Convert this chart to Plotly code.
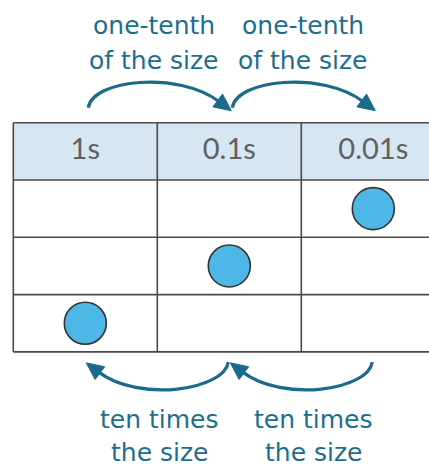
import plotly.graph_objects as go

# ---- data ----
columns = ["1s", "0.1s", "0.01s"]
n_rows = 3
dot_cols = [2, 1, 0]          # column index of each dot
dot_rows = [1, 2, 3]          # row index (0 = header)
top_labels = [["one-tenth", "of the size"], ["one-tenth", "of the size"]]
bottom_labels = [["ten times", "the size"], ["ten times", "the size"]]

# ---- geometry (pixels) ----
W, H = 429, 467
X0, CW = 13.3, 144.0      # table left edge, column width
Y0, RH = 122.7, 57.3      # table top, row height

def ux(px):
    return (px - X0) / CW

def uy(py):
    return (py - Y0) / RH

LINE = "#4a4a4a"
HEAD_FILL = "#d6e6f2"
DOT = "#4db8e8"
TEAL = "#1e6e8e"
ARROW = "#1b6a8a"
LABEL_FONT = dict(family="DejaVu Sans", size=25, color=TEAL)

fig = go.Figure()
shapes = []

ncol = len(columns)
# header fill
shapes.append(dict(type="rect", xref="x", yref="y", x0=0, x1=ncol, y0=0, y1=1,
                   fillcolor=HEAD_FILL, line=dict(width=0), layer="below"))
# horizontal lines
for r in range(n_rows + 2):
    shapes.append(dict(type="line", xref="x", yref="y", x0=0, x1=ncol, y0=r, y1=r,
                       line=dict(color=LINE, width=1.6)))
# vertical lines
for c in range(ncol + 1):
    shapes.append(dict(type="line", xref="x", yref="y", x0=c, x1=c, y0=0, y1=n_rows + 1,
                       line=dict(color=LINE, width=1.6)))

# header text
fig.add_trace(go.Scatter(
    x=[i + 0.5 for i in range(ncol)], y=[0.5] * ncol, mode="text", text=columns,
    textfont=dict(family="Lato", size=29, color="#606060"), textposition="middle center",
    hoverinfo="skip", showlegend=False))

# dots
fig.add_trace(go.Scatter(
    x=[c + 0.5 for c in dot_cols], y=[r + 0.5 for r in dot_rows], mode="markers",
    marker=dict(size=42, color=DOT, line=dict(color="#333333", width=1.6)),
    hoverinfo="skip", showlegend=False))

def arrow(S, T, sign):
    """S start, T tip in pixels; sign=+1 top arc (going right), -1 bottom arc (going left)."""
    d = (0.8 * sign, 0.6 * sign)
    L, hw = 17.0, 8.0
    P3 = (T[0] - L * d[0], T[1] - L * d[1])
    P1 = (S[0] + 4 * sign, S[1] - 28 * sign)
    P2 = (P3[0] - 50 * d[0], P3[1] - 50 * d[1])
    path = "M {},{} C {},{} {},{} {},{}".format(
        ux(S[0]), uy(S[1]), ux(P1[0]), uy(P1[1]), ux(P2[0]), uy(P2[1]),
        ux(P3[0] + 2 * d[0]), uy(P3[1] + 2 * d[1]))
    shapes.append(dict(type="path", xref="x", yref="y", path=path,
                       line=dict(color=ARROW, width=3.2)))
    perp = (-d[1], d[0])
    a = (P3[0] + hw * perp[0], P3[1] + hw * perp[1])
    b = (P3[0] - hw * perp[0], P3[1] - hw * perp[1])
    tri = "M {},{} L {},{} L {},{} Z".format(ux(T[0]), uy(T[1]), ux(a[0]), uy(a[1]),
                                           ux(b[0]), uy(b[1]))
    shapes.append(dict(type="path", xref="x", yref="y", path=tri,
                       fillcolor=ARROW, line=dict(color=ARROW, width=1)))

def cx(c):
    return X0 + (c + 0.5) * CW

ybot = Y0 + (n_rows + 1) * RH
for c in range(ncol - 1):
    arrow((cx(c) + 3, Y0 - 15), (cx(c + 1) + 2, Y0 - 12), 1)
    arrow((cx(c + 1) - 1, ybot + 10), (cx(c) + 1, ybot + 11), -1)

top_dx = [-3, 2]
bot_dx = [2, 12]
top_y = [25, 60]
bot_y = [419, 452]
for i in range(ncol - 1):
    bx = X0 + (i + 1) * CW
    for k in range(2):
        fig.add_annotation(x=ux(bx + top_dx[i]), y=uy(top_y[k]), text=top_labels[i][k],
                           showarrow=False, font=LABEL_FONT, xanchor="center", yanchor="middle")
        fig.add_annotation(x=ux(bx + bot_dx[i]), y=uy(bot_y[k]), text=bottom_labels[i][k],
                           showarrow=False, font=LABEL_FONT, xanchor="center", yanchor="middle")

fig.update_layout(
    width=W, height=H, margin=dict(l=0, r=0, t=0, b=0),
    paper_bgcolor="white", plot_bgcolor="white", shapes=shapes,
    xaxis=dict(range=[ux(0), ux(W)], visible=False, fixedrange=True),
    yaxis=dict(range=[uy(H), uy(0)], visible=False, fixedrange=True),
    showlegend=False,
)
fig.write_html("out.html", config={"displayModeBar": False},
               post_script="document.body.style.margin='0px';document.body.style.overflow='hidden';")
